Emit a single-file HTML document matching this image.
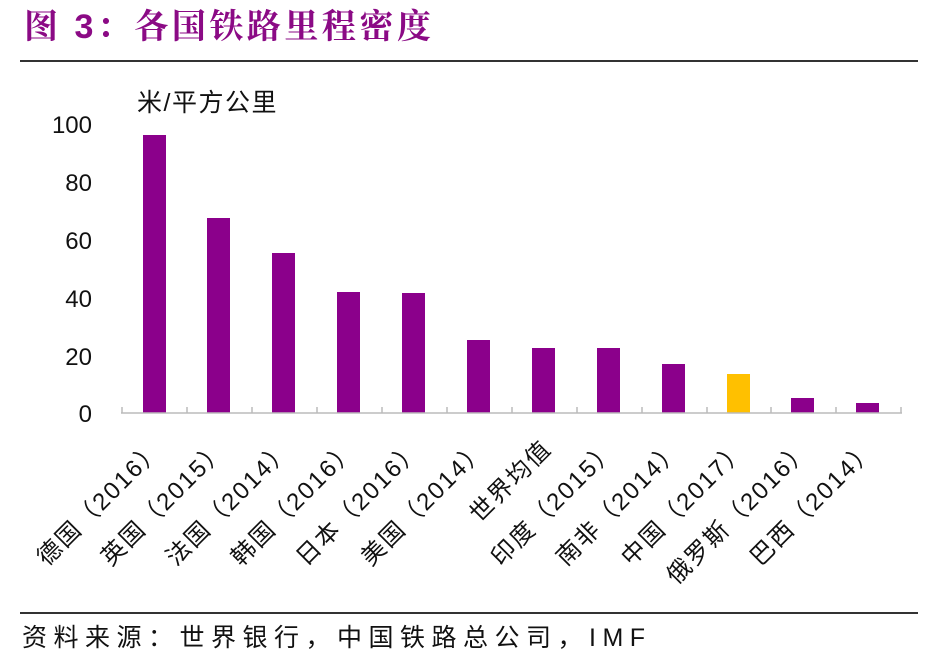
<!DOCTYPE html>
<html><head><meta charset="utf-8"><style>
html,body{margin:0;padding:0;background:#fff;}
svg{display:block;}
text{font-family:"Liberation Sans","Noto Sans CJK SC",sans-serif;fill:#111;}
</style></head><body>
<svg width="938" height="664" viewBox="0 0 938 664" xmlns="http://www.w3.org/2000/svg">
<text x="24" y="38" style="font-family:'Liberation Sans','Noto Serif CJK SC',serif;font-weight:bold;font-size:34px;letter-spacing:3.5px;fill:#8B0A85;">图 3：各国铁路里程密度</text>
<line x1="20" y1="61" x2="918" y2="61" stroke="#333" stroke-width="2"/>
<text x="137" y="111" font-size="25" letter-spacing="1.5">米/平方公里</text>
<g font-size="24" text-anchor="end">
<text x="92" y="133">100</text>
<text x="92" y="191">80</text>
<text x="92" y="249">60</text>
<text x="92" y="307">40</text>
<text x="92" y="365">20</text>
<text x="92" y="422">0</text>
</g>
<g fill="#8B008B">
<rect x="143" y="135" width="23" height="278"/>
<rect x="207" y="218" width="23" height="195"/>
<rect x="272" y="253" width="23" height="160"/>
<rect x="337" y="292" width="23" height="121"/>
<rect x="402" y="293" width="23" height="120"/>
<rect x="467" y="340" width="23" height="73"/>
<rect x="532" y="348" width="23" height="65"/>
<rect x="597" y="348" width="23" height="65"/>
<rect x="662" y="364" width="23" height="49"/>
<rect x="727" y="374" width="23" height="39" fill="#FFC000"/>
<rect x="791" y="398" width="23" height="15"/>
<rect x="856" y="403" width="23" height="10"/>
</g>
<line x1="121" y1="413" x2="902" y2="413" stroke="#bbb" stroke-width="1.5"/>
<g stroke="#bbb" stroke-width="1.5">
<line x1="122" y1="407" x2="122" y2="413"/><line x1="187" y1="407" x2="187" y2="413"/><line x1="252" y1="407" x2="252" y2="413"/><line x1="317" y1="407" x2="317" y2="413"/><line x1="382" y1="407" x2="382" y2="413"/><line x1="447" y1="407" x2="447" y2="413"/><line x1="512" y1="407" x2="512" y2="413"/><line x1="577" y1="407" x2="577" y2="413"/><line x1="642" y1="407" x2="642" y2="413"/><line x1="707" y1="407" x2="707" y2="413"/><line x1="771" y1="407" x2="771" y2="413"/><line x1="836" y1="407" x2="836" y2="413"/><line x1="901" y1="407" x2="901" y2="413"/>
</g>
<g font-size="24" text-anchor="end" letter-spacing="2">
<text transform="translate(164,450) rotate(-45)">德国（2016）</text>
<text transform="translate(228,450) rotate(-45)">英国（2015）</text>
<text transform="translate(293,450) rotate(-45)">法国（2014）</text>
<text transform="translate(358,450) rotate(-45)">韩国（2016）</text>
<text transform="translate(423,450) rotate(-45)">日本（2016）</text>
<text transform="translate(488,450) rotate(-45)">美国（2014）</text>
<text transform="translate(553,450) rotate(-45)">世界均值</text>
<text transform="translate(618,450) rotate(-45)">印度（2015）</text>
<text transform="translate(683,450) rotate(-45)">南非（2014）</text>
<text transform="translate(748,450) rotate(-45)">中国（2017）</text>
<text transform="translate(812,450) rotate(-45)">俄罗斯（2016）</text>
<text transform="translate(877,450) rotate(-45)">巴西（2014）</text>
</g>
<line x1="20" y1="613" x2="918" y2="613" stroke="#333" stroke-width="2"/>
<text x="22" y="646" font-size="25" letter-spacing="6.5">资料来源：世界银行，中国铁路总公司，IMF</text>
</svg>
</body></html>
